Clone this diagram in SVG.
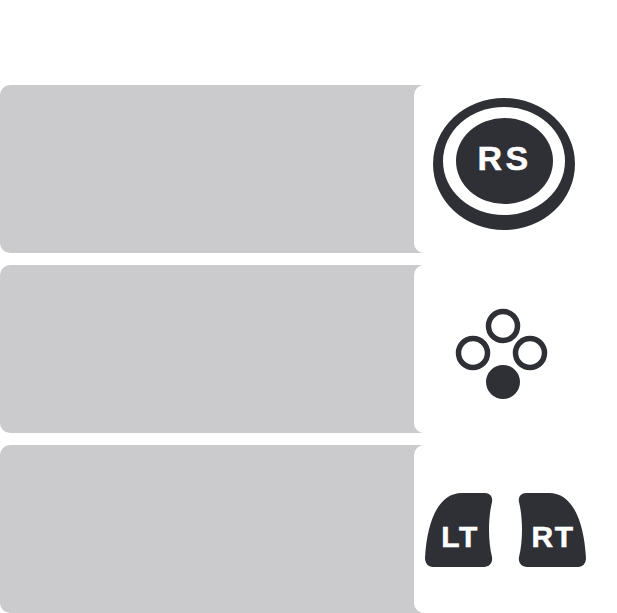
<svg xmlns="http://www.w3.org/2000/svg" width="617" height="613" viewBox="0 0 617 613">
<style>
.panel{fill:#cbcbcd}
.card{fill:#fff}
.ink{fill:#2f3036}
.ring{fill:#fff;stroke:#2f3036;stroke-width:5.500}
.label{fill:#fff;stroke:#fff;stroke-width:.5;font-family:"Liberation Sans",Arial,sans-serif;font-weight:700;text-anchor:middle}
</style>
<rect width="617" height="613" fill="#fff"/>
<g id="row-rs">
<rect class="panel" x="0" y="85" width="430" height="168" rx="10"/>
<rect class="card" x="414" y="85" width="203" height="168" rx="10"/>
<ellipse class="ink" cx="504" cy="164" rx="71" ry="66"/>
<ellipse class="card" cx="504" cy="161" rx="61" ry="54"/>
<ellipse class="ink" cx="504.500" cy="161" rx="48.500" ry="43"/>
<text class="label" x="504.500" y="170" font-size="34" letter-spacing="3.500">RS</text>
</g>
<g id="row-buttons">
<rect class="panel" x="0" y="265" width="430" height="168" rx="10"/>
<rect class="card" x="414" y="265" width="203" height="168" rx="10"/>
<circle class="ring" cx="503" cy="326" r="14.500"/>
<circle class="ring" cx="473" cy="353" r="14.500"/>
<circle class="ring" cx="530" cy="353" r="14.500"/>
<circle class="ink" cx="503" cy="382" r="17"/>
</g>
<g id="row-triggers">
<rect class="panel" x="0" y="445" width="430" height="168" rx="10"/>
<rect class="card" x="414" y="445" width="203" height="168" rx="10"/>
<path class="ink" d="M462 493H485C490 493 493 497 492 502C488 518 488 541 492 557C493 563 489 567 484 567H433C428 567 425 563 425 558C427 522 438 493 462 493Z"/>
<path class="ink" d="M549 493H526C521 493 518 497 519 502C523 518 523 541 519 557C518 563 522 567 527 567H578C583 567 586 563 586 558C584 522 573 493 549 493Z"/>
<text class="label" x="460" y="547" font-size="30" letter-spacing="1.500">LT</text>
<text class="label" x="553" y="547" font-size="30" letter-spacing="1.500">RT</text>
</g>
</svg>
